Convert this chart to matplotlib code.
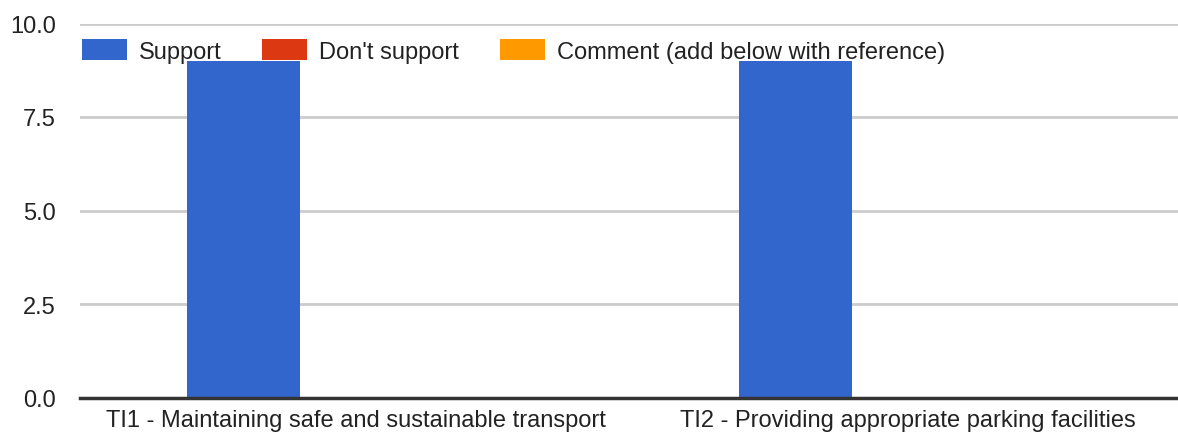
import matplotlib
matplotlib.use("Agg")
import matplotlib.pyplot as plt
import numpy as np

categories = ["TI1 - Maintaining safe and sustainable transport",
              "TI2 - Providing appropriate parking facilities"]
series_names = ["Support", "Don't support", "Comment (add below with reference)"]
support = [9, 9]
dont_support = [0, 0]
comment = [0, 0]
colors = ["#3366cc", "#dc3912", "#ff9900"]
yticks = [0.0, 2.5, 5.0, 7.5, 10.0]

plt.rcParams['font.family'] = ['Liberation Sans', 'DejaVu Sans']

fig = plt.figure(figsize=(11.78, 4.39), dpi=100)
ax = fig.add_axes([80/1178, 1-398.5/439, 1104/1178, 374/439])

x = np.arange(len(categories))
w = 0.2047
vals = [support, dont_support, comment]
for i, (name, v, c) in enumerate(zip(series_names, vals, colors)):
    ax.bar(x + (i-1)*w, v, width=w, color=c, label=name, zorder=2)

ax.set_xlim(-0.5, 1.5)
ax.set_ylim(0, 10)
ax.set_yticks(yticks)
ax.set_yticklabels([f"{t:.1f}" for t in yticks])
ax.set_xticks(x)
ax.set_xticklabels(categories)
for s in ax.spines.values():
    s.set_visible(False)
ax.grid(axis='y', color='#cccccc', linewidth=2, zorder=0)
ax.set_axisbelow(True)
ax.axhline(0, color='#333333', linewidth=2.5, zorder=3, clip_on=False)
ax.tick_params(axis='both', length=0, labelsize=17, colors='#222222')
ax.tick_params(axis='y', pad=17.5)
ax.tick_params(axis='x', pad=8)

leg = ax.legend(loc='upper left', bbox_to_anchor=(0.0015, 0.958), ncol=3, frameon=False,
                fontsize=17, handlelength=1.92, handleheight=1.0, handletextpad=0.5,
                columnspacing=1.72, borderpad=0, borderaxespad=0)
for t in leg.get_texts():
    t.set_color('#222222')

fig.savefig("out.png", dpi=100)
